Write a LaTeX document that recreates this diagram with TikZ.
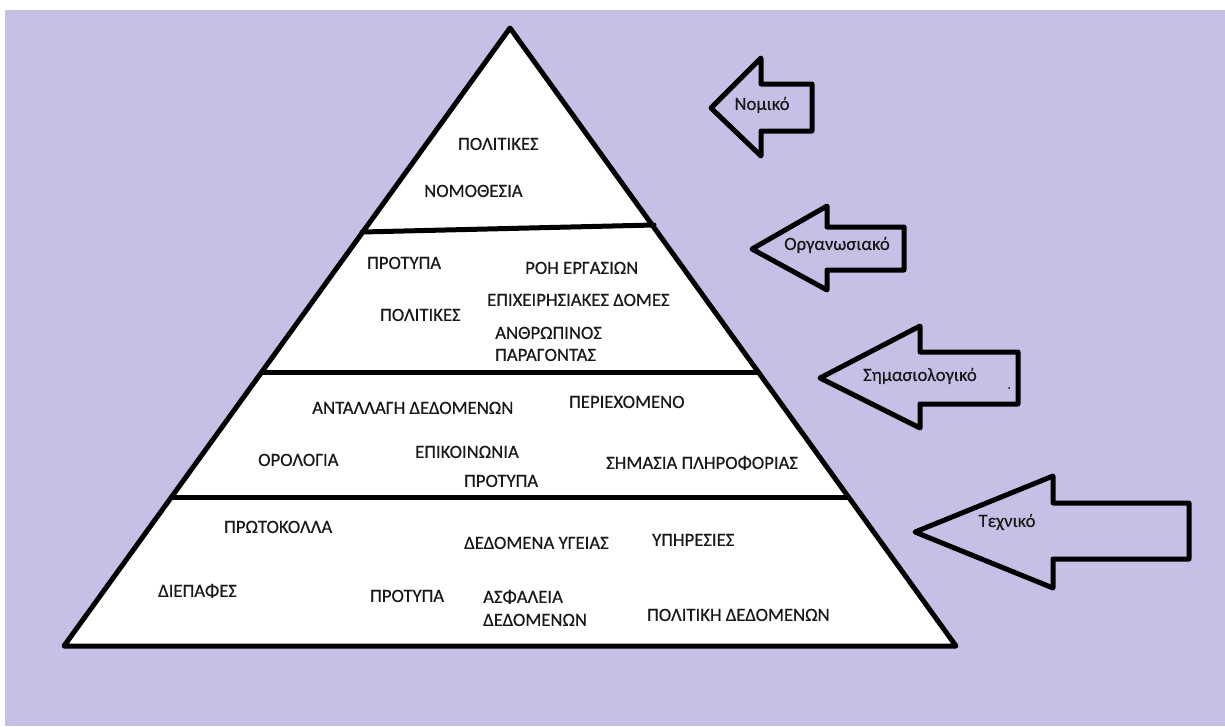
\documentclass[tikz,border=0pt]{standalone}
\usepackage{fontspec}
\setmainfont{Carlito}[FakeBold=0.4]
\definecolor{lav}{RGB}{199,192,230}
\definecolor{ink}{RGB}{25,25,25}
\begin{document}
\begin{tikzpicture}[x=1pt,y=-1pt,
  outline/.style={line width=5pt,line join=round,line cap=round},
  lbl/.style={anchor=west,inner sep=0pt,text height=11.9pt,text depth=0pt,
    font=\fontsize{18.7pt}{20pt}\selectfont,text=ink},
  albl/.style={lbl,anchor=center}]
% page and background
\useasboundingbox (0,0) rectangle (1225,726);
\fill[white] (0,0) rectangle (1225,726);
\fill[lav] (5,10) rectangle (1225,726);

% pyramid and its layer dividers
\coordinate (apex) at (510,28);
\coordinate (bl) at (64,646);
\coordinate (br) at (956,646);
\filldraw[fill=white,outline] (apex) -- (br) -- (bl) -- cycle;
\coordinate (d1l) at (362,232); \coordinate (d1r) at (654,225);
\coordinate (d2l) at (262,372); \coordinate (d2r) at (758,372);
\coordinate (d3l) at (172,497); \coordinate (d3r) at (848,497);
\draw[outline] (d1l) -- (d1r);
\draw[outline] (d2l) -- (d2r);
\draw[outline] (d3l) -- (d3r);

% top layer
\node[lbl] (t1) at (458,144) {ΠΟΛΙΤΙΚΕΣ};
\node[lbl] (t2) at (424,191) {ΝΟΜΟΘΕΣΙΑ};

% second layer
\node[lbl] (o1) at (367,263) {ΠΡΟΤΥΠΑ};
\node[lbl] (o2) at (525,268) {ΡΟΗ ΕΡΓΑΣΙΩΝ};
\node[lbl] (o3) at (487,300) {ΕΠΙΧΕΙΡΗΣΙΑΚΕΣ ΔΟΜΕΣ};
\node[lbl] (o4) at (380,315) {ΠΟΛΙΤΙΚΕΣ};
\node[lbl] (o5) at (495,333) {ΑΝΘΡΩΠΙΝΟΣ};
\node[lbl] (o6) at (495,355) {ΠΑΡΑΓΟΝΤΑΣ};

% third layer
\node[lbl] (s1) at (312,408) {ΑΝΤΑΛΛΑΓΗ ΔΕΔΟΜΕΝΩΝ};
\node[lbl] (s2) at (569,402) {ΠΕΡΙΕΧΟΜΕΝΟ};
\node[lbl] (s3) at (258,460) {ΟΡΟΛΟΓΙΑ};
\node[lbl] (s4) at (415,452) {ΕΠΙΚΟΙΝΩΝΙΑ};
\node[lbl] (s5) at (464,481) {ΠΡΟΤΥΠΑ};
\node[lbl] (s6) at (606,463) {ΣΗΜΑΣΙΑ ΠΛΗΡΟΦΟΡΙΑΣ};

% base layer
\node[lbl] (b1) at (224,527) {ΠΡΩΤΟΚΟΛΛΑ};
\node[lbl] (b2) at (464,543) {ΔΕΔΟΜΕΝΑ ΥΓΕΙΑΣ};
\node[lbl] (b3) at (652,540) {ΥΠΗΡΕΣΙΕΣ};
\node[lbl] (b4) at (158,591) {ΔΙΕΠΑΦΕΣ};
\node[lbl] (b5) at (370,596) {ΠΡΟΤΥΠΑ};
\node[lbl] (b6) at (483,597) {ΑΣΦΑΛΕΙΑ};
\node[lbl] (b7) at (483,620) {ΔΕΔΟΜΕΝΩΝ};
\node[lbl] (b8) at (647,615) {ΠΟΛΙΤΙΚΗ ΔΕΔΟΜΕΝΩΝ};

% block arrows pointing at the layers
% tip, head top, shaft top, right end, shaft bottom, head bottom
\draw[outline] (711,108) -- (761,58) -- (761,84) -- (812,84) -- (812,131) -- (761,131) -- (761,156) -- cycle;
\node[albl] (a1) at (762,104) {Νομικό};

\draw[outline] (752,249) -- (827,206) -- (827,227) -- (904,227) -- (904,270) -- (827,270) -- (827,290) -- cycle;
\node[albl] (a2) at (837,244) {Οργανωσιακό};

\draw[outline] (820,378) -- (920,326) -- (920,352) -- (1018,352) -- (1018,404) -- (920,404) -- (920,428) -- cycle;
\node[albl] (a3) at (920,375) {Σημασιολογικό};
\fill[ink] (1009,388) circle (1pt);

\draw[outline] (915,532) -- (1053,476) -- (1053,503) -- (1189,503) -- (1189,559) -- (1053,559) -- (1053,588) -- cycle;
\node[albl] (a4) at (1007,521) {Τεχνικό};
\end{tikzpicture}
\end{document}
